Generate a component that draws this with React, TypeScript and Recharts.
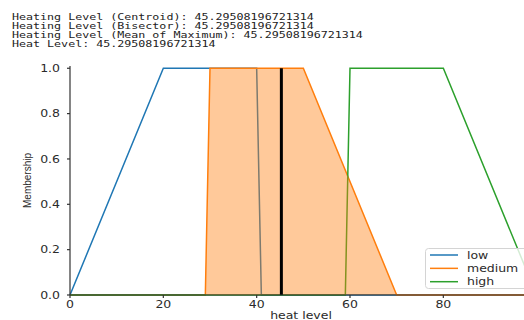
import React from "react";
import { ComposedChart, Area, Line, XAxis, YAxis, Legend, Label } from "recharts";

const headerLines = [
  "Heating Level (Centroid): 45.29508196721314",
  "Heating Level (Bisector): 45.29508196721314",
  "Heating Level (Mean of Maximum): 45.29508196721314",
  "Heat Level: 45.29508196721314",
];

const xTicks = [0, 20, 40, 60, 80];
const yTicks = [0, 0.2, 0.4, 0.6, 0.8, 1.0];

const seriesNames = ["low", "medium", "high"];
const seriesColors = ["#1f77b4", "#ff7f0e", "#2ca02c"];

const lowX = [0, 20, 40, 41, 99];
const lowY = [0, 1, 1, 0, 0];
const mediumX = [0, 29, 30, 50, 70, 99];
const mediumY = [0, 0, 1, 1, 0, 0];
const highX = [0, 59, 60, 80, 99];
const highY = [0, 0, 1, 1, 0.05];
const crispValue = 45.29508196721314;
const crispY = [0, 1];

const zip = (xs: number[], ys: number[]) => xs.map((x, i) => ({ x, y: ys[i] }));
const lowData = zip(lowX, lowY);
const mediumData = zip(mediumX, mediumY);
const highData = zip(highX, highY);
const seriesData = [lowData, mediumData, highData];
const crispData = crispY.map((y) => ({ x: crispValue, y }));

const TEXT = "#2a2a2a";
const SX = 1.25;

const XTick = (props: any) => {
  const { x, payload } = props;
  return (
    <text
      transform={`translate(${x},307.7) scale(${SX},1)`}
      textAnchor="middle"
      fontFamily="DejaVu Sans"
      fontSize={10}
      fill={TEXT}
    >
      {payload.value}
    </text>
  );
};

const YTick = (props: any) => {
  const { y, payload } = props;
  return (
    <text
      transform={`translate(60,${y + 3.6}) scale(${SX},1)`}
      textAnchor="end"
      fontFamily="DejaVu Sans"
      fontSize={10}
      fill={TEXT}
    >
      {Number(payload.value).toFixed(1)}
    </text>
  );
};

const renderLegend = () => {
  return (
    <svg width={105} height={42} style={{ display: "block" }}>
      <rect
        x={0.5}
        y={0.5}
        width={104}
        height={40}
        rx={3}
        ry={3}
        fill="#fff"
        fillOpacity={0.8}
        stroke="#d4d4d4"
        strokeWidth={1}
      />
      {seriesNames.map((name, i) => {
        const cy = 7 + i * 13.35;
        return (
          <g key={name}>
            <line
              x1={5}
              x2={33}
              y1={cy}
              y2={cy}
              stroke={seriesColors[i]}
              strokeWidth={1.5}
            />
            <text
              transform={`translate(42,${cy + 3.5}) scale(${SX},1)`}
              fontFamily="DejaVu Sans"
              fontSize={10}
              fill={TEXT}
            >
              {name}
            </text>
          </g>
        );
      })}
    </svg>
  );
};

export default function App() {
  return (
    <div
      style={{
        position: "absolute",
        left: 0,
        top: 0,
        width: 524,
        height: 320,
        overflow: "hidden",
        background: "#fff",
      }}
    >
      <div
        style={{
          position: "absolute",
          left: 12,
          top: 11.5,
          fontFamily: "DejaVu Sans Mono",
          fontSize: 9.5,
          lineHeight: "9.25px",
          color: "#222",
          whiteSpace: "pre",
          transform: "scaleX(1.227)",
          transformOrigin: "left top",
        }}
      >
        {headerLines.join("\n")}
      </div>
      <div style={{ position: "absolute", left: 0, top: 0 }}>
        <ComposedChart
          width={534}
          height={320}
          margin={{ top: 66, right: 2, bottom: 0, left: 0 }}
        >
          <XAxis
            type="number"
            dataKey="x"
            domain={[0, 99]}
            ticks={xTicks}
            height={25}
            tickSize={3}
            tick={XTick}
            axisLine={{ stroke: "#333", strokeWidth: 1.2 }}
            tickLine={{ stroke: "#333", strokeWidth: 1.2 }}
          >
            <Label
              content={(p: any) => {
                const vb = p.viewBox || {};
                const cx = (vb.x ?? 70) + (vb.width ?? 462) / 2;
                return (
                  <text
                    transform={`translate(${cx},318.5) scale(${SX},1)`}
                    textAnchor="middle"
                    fontFamily="DejaVu Sans"
                    fontSize={10}
                    fill={TEXT}
                  >
                    heat level
                  </text>
                );
              }}
            />
          </XAxis>
          <YAxis
            type="number"
            dataKey="y"
            domain={[0, 1.01]}
            ticks={yTicks}
            width={70}
            tickSize={3}
            tick={YTick}
            axisLine={{ stroke: "#333", strokeWidth: 1.2 }}
            tickLine={{ stroke: "#333", strokeWidth: 1.2 }}
          >
            <Label
              content={(p: any) => {
                const vb = p.viewBox || {};
                const cy = (vb.y ?? 66) + (vb.height ?? 229) / 2;
                return (
                  <text
                    transform={`translate(31,${cy}) rotate(-90)`}
                    textAnchor="middle"
                    fontFamily="Liberation Sans"
                    fontSize={10}
                    fill={TEXT}
                  >
                    Membership
                  </text>
                );
              }}
            />
          </YAxis>
          {seriesNames.map((name, i) => (
            <Area
              key={name}
              type="linear"
              data={seriesData[i]}
              dataKey="y"
              name={name}
              stroke={seriesColors[i]}
              strokeWidth={1.5}
              fill="none"
              dot={false}
              activeDot={false}
              legendType="line"
              isAnimationActive={false}
            />
          ))}
          <Area
            type="linear"
            data={mediumData}
            dataKey="y"
            name="medium fill"
            stroke="none"
            fill="#ff7f0e"
            fillOpacity={0.42}
            dot={false}
            activeDot={false}
            legendType="none"
            isAnimationActive={false}
          />
          <Line
            type="linear"
            data={crispData}
            dataKey="y"
            name="crisp"
            stroke="#000"
            strokeWidth={3}
            dot={false}
            activeDot={false}
            legendType="none"
            isAnimationActive={false}
          />
          <Legend
            layout="vertical"
            align="center"
            verticalAlign="middle"
            wrapperStyle={{ left: 425, top: 248, width: 105, height: 42 }}
            content={renderLegend}
          />
        </ComposedChart>
      </div>
    </div>
  );
}
